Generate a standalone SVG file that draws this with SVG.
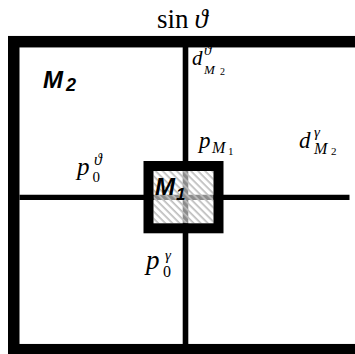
<svg xmlns="http://www.w3.org/2000/svg" width="355" height="354" viewBox="0 0 355 354">
<style>
.serif{font-family:"Liberation Serif","DejaVu Serif",serif;fill:#000}
.it{font-style:italic}
.sans{font-family:"Liberation Sans",Arial,sans-serif;font-weight:bold;font-style:italic;fill:#000}
</style>
<defs>
<pattern id="hatch" patternUnits="userSpaceOnUse" width="5" height="5" patternTransform="rotate(45)">
<rect x="0" y="0" width="5" height="1.7" fill="#bdbdbd"/>
</pattern>
</defs>
<rect width="355" height="354" fill="#fff"/>
<g id="connectors" stroke="#000" fill="none">
<line x1="185.5" y1="47" x2="185.5" y2="344" stroke-width="5.6"/>
<line x1="19.5" y1="197.3" x2="349.5" y2="197.3" stroke-width="5.3"/>
</g>
<g id="M2">
<rect x="13.75" y="41.7" width="348" height="308" fill="none" stroke="#000" stroke-width="11.5"/>
<text class="sans" x="43" y="88" font-size="24">M</text>
<text class="sans" x="66" y="91" font-size="18">2</text>
</g>
<g id="M1">
<rect x="153.5" y="171" width="60" height="52.3" fill="#fff" fill-opacity="0.55"/>
<rect x="153.5" y="171" width="60" height="52.3" fill="url(#hatch)"/>
<rect x="148.5" y="166" width="70" height="62.3" fill="none" stroke="#000" stroke-width="10"/>
<text class="sans" x="155" y="195" font-size="24">M</text>
<text class="sans" x="176" y="200" font-size="17">1</text>
</g>
<g id="labels">
<text class="serif" x="157" y="28" font-size="27">sin<tspan class="it" dx="6">ϑ</tspan></text>
<text class="serif it" x="192" y="65" font-size="21">d</text>
<text class="serif it" x="204" y="55" font-size="15">ϑ</text>
<text class="serif it" x="204" y="74" font-size="13">M</text>
<text class="serif" x="220" y="75" font-size="10">2</text>
<text class="serif it" x="299" y="148" font-size="23">d</text>
<text class="serif it" x="314" y="137" font-size="15">γ</text>
<text class="serif it" x="314" y="154" font-size="16">M</text>
<text class="serif" x="331" y="155" font-size="11">2</text>
<text class="serif it" x="199" y="148" font-size="23">p</text>
<text class="serif it" x="212" y="153" font-size="16">M</text>
<text class="serif" x="228" y="155" font-size="11">1</text>
<text class="serif it" x="77" y="175" font-size="25">p</text>
<text class="serif" x="92.5" y="182" font-size="15">0</text>
<text class="serif it" x="94" y="165" font-size="16">ϑ</text>
<text class="serif it" x="146" y="269" font-size="27">p</text>
<text class="serif" x="163" y="277" font-size="16">0</text>
<text class="serif it" x="165" y="260" font-size="15">γ</text>
</g>
</svg>
